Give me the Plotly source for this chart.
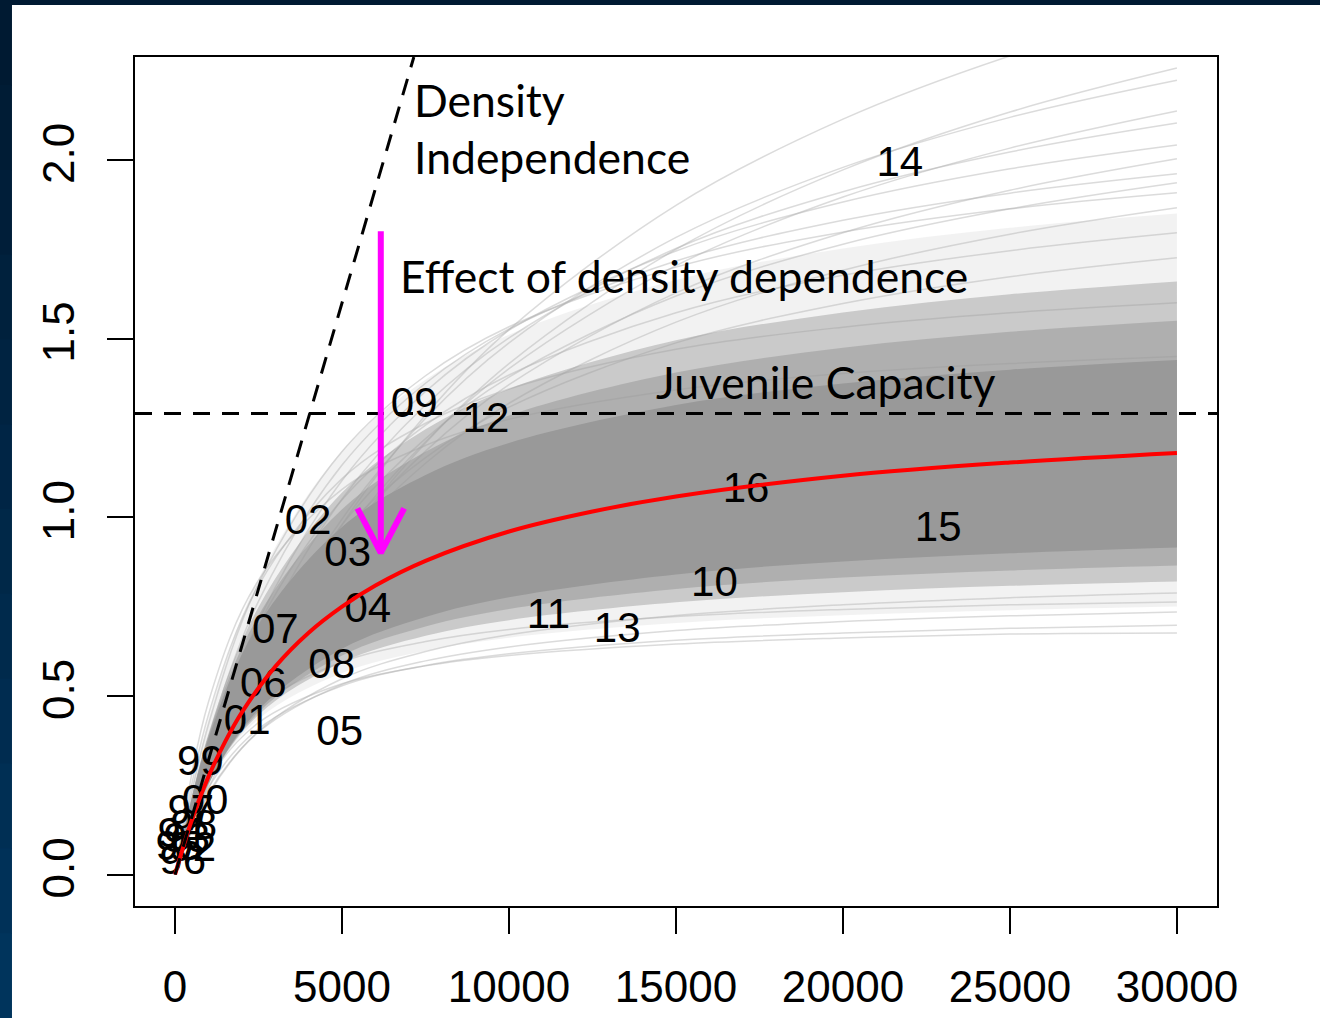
import plotly.graph_objects as go

# ---------------- data ----------------
grid_spawners = [0, 1000, 2500, 5000, 7500, 10000, 15000, 20000, 25000, 30000]

mean_spawners = [0, 500, 1000, 1500, 2000, 3000, 4000, 5000, 6000, 7500, 10000, 12500,
                 15000, 20000, 25000, 30000]
mean_recruits = [0, 0.152, 0.274, 0.372, 0.454, 0.582, 0.677, 0.750, 0.809, 0.878, 0.960, 1.016,
                 1.058, 1.116, 1.153, 1.18]

core_upper = [0, 0.381, 0.700, 0.973, 1.118, 1.208, 1.314, 1.374, 1.413, 1.44]
core_lower = [0, 0.254, 0.461, 0.632, 0.721, 0.776, 0.840, 0.876, 0.899, 0.915]
mid_upper = [0, 0.388, 0.725, 1.022, 1.183, 1.285, 1.405, 1.474, 1.519, 1.55]
mid_lower = [0, 0.255, 0.454, 0.613, 0.694, 0.743, 0.799, 0.831, 0.851, 0.865]
fringe_upper = [0, 0.394, 0.749, 1.069, 1.246, 1.359, 1.495, 1.573, 1.624, 1.66]
fringe_lower = [0, 0.256, 0.447, 0.594, 0.668, 0.712, 0.762, 0.790, 0.808, 0.82]
outer_upper = [0, 0.435, 0.828, 1.186, 1.385, 1.511, 1.664, 1.752, 1.810, 1.85]
outer_lower = [0, 0.258, 0.435, 0.564, 0.626, 0.663, 0.704, 0.726, 0.740, 0.75]

upper_draws = [
    [0, 0.253, 0.570, 0.979, 1.286, 1.525, 1.873, 2.114, 2.291, 2.427],
    [0, 0.240, 0.540, 0.923, 1.208, 1.430, 1.750, 1.972, 2.134, 2.257],
    [0, 0.272, 0.598, 0.995, 1.277, 1.488, 1.783, 1.979, 2.119, 2.223],
    [0, 0.255, 0.563, 0.941, 1.212, 1.416, 1.704, 1.896, 2.033, 2.137],
    [0, 0.309, 0.657, 1.051, 1.314, 1.502, 1.752, 1.911, 2.022, 2.103],
    [0, 0.344, 0.711, 1.103, 1.352, 1.524, 1.745, 1.882, 1.975, 2.042],
    [0, 0.261, 0.567, 0.931, 1.185, 1.371, 1.628, 1.796, 1.915, 2.003],
    [0, 0.383, 0.765, 1.146, 1.375, 1.527, 1.717, 1.831, 1.907, 1.961],
    [0, 0.290, 0.614, 0.979, 1.220, 1.392, 1.619, 1.764, 1.863, 1.936],
    [0, 0.420, 0.814, 1.184, 1.396, 1.533, 1.700, 1.798, 1.863, 1.908],
    [0, 0.266, 0.569, 0.916, 1.151, 1.319, 1.546, 1.691, 1.792, 1.866],
    [0, 0.350, 0.699, 1.049, 1.258, 1.398, 1.572, 1.677, 1.746, 1.796],
    [0, 0.306, 0.626, 0.959, 1.167, 1.308, 1.488, 1.598, 1.673, 1.726],
    [0, 0.447, 0.809, 1.108, 1.263, 1.359, 1.470, 1.532, 1.572, 1.60],
    [0, 0.483, 0.824, 1.078, 1.201, 1.274, 1.356, 1.402, 1.430, 1.45],
]
lower_draws = [
    [0, 0.263, 0.425, 0.534, 0.584, 0.613, 0.645, 0.662, 0.673, 0.676],
    [0, 0.243, 0.408, 0.528, 0.585, 0.618, 0.656, 0.676, 0.689, 0.698],
    [0, 0.228, 0.399, 0.532, 0.598, 0.637, 0.683, 0.708, 0.724, 0.735],
    [0, 0.289, 0.471, 0.595, 0.652, 0.686, 0.722, 0.742, 0.755, 0.763],
    [0, 0.223, 0.401, 0.548, 0.624, 0.671, 0.725, 0.755, 0.775, 0.788],
]

juvenile_capacity = 1.29
density_independent_slope = 3.2e-4

year_labels = ["14", "09", "12", "16", "15", "02", "03", "04", "10", "11", "13",
               "07", "08", "06", "05", "01", "99", "00", "97", "98", "96", "95",
               "94", "93", "92"]
year_spawners = [21700, 7160, 9310, 17100, 22850, 3980, 5170, 5770, 16150, 11180, 13240,
                 3000, 4690, 2640, 4930, 2160, 760, 900, 470, 560, 230, 110,
                 170, 350, 530]
year_recruits = [1.983, 1.309, 1.268, 1.072, 0.963, 0.983, 0.893, 0.737, 0.809, 0.720, 0.681,
                 0.678, 0.580, 0.527, 0.393, 0.424, 0.309, 0.200, 0.170, 0.130, 0.030, 0.070,
                 0.106, 0.092, 0.068]

arrow_spawners = 6160
arrow_from = 1.80
arrow_to = 0.90

x_ticks = [0, 5000, 10000, 15000, 20000, 25000, 30000]
y_ticks = [0.0, 0.5, 1.0, 1.5, 2.0]
y_tick_text = ["0.0", "0.5", "1.0", "1.5", "2.0"]

x_range = [-1200, 31200]
y_range = [-0.088, 2.288]

# ---------------- figure ----------------
fig = go.Figure()

def band(upper, lower, color):
    fig.add_trace(go.Scatter(x=grid_spawners, y=upper, mode="lines",
                             line=dict(width=0, shape="spline", color=color),
                             hoverinfo="skip", showlegend=False))
    fig.add_trace(go.Scatter(x=grid_spawners, y=lower, mode="lines",
                             line=dict(width=0, shape="spline", color=color),
                             fill="tonexty", fillcolor=color,
                             hoverinfo="skip", showlegend=False))

band(outer_upper, outer_lower, "rgba(205,205,205,0.25)")

for d in upper_draws + lower_draws:
    fig.add_trace(go.Scatter(x=grid_spawners, y=d, mode="lines",
                             line=dict(width=1.5, shape="spline", color="rgba(175,175,175,0.45)"),
                             hoverinfo="skip", showlegend=False))

band(fringe_upper, fringe_lower, "rgba(153,153,153,0.45)")
band(mid_upper, mid_lower, "rgba(153,153,153,0.55)")
band(core_upper, core_lower, "rgb(153,153,153)")

# year labels
fig.add_trace(go.Scatter(x=year_spawners, y=year_recruits, mode="text", text=year_labels,
                         textposition="middle center",
                         textfont=dict(family="Liberation Sans, Arial", size=42, color="black"),
                         hoverinfo="skip", showlegend=False, cliponaxis=False))

# mean curve
fig.add_trace(go.Scatter(x=mean_spawners, y=mean_recruits, mode="lines",
                         line=dict(width=4, shape="spline", color="#ff0000"),
                         hoverinfo="skip", showlegend=False))

# juvenile capacity
fig.add_trace(go.Scatter(x=x_range, y=[juvenile_capacity, juvenile_capacity], mode="lines",
                         line=dict(width=3, color="black", dash="17px,12px"),
                         hoverinfo="skip", showlegend=False))
# density independence line
di_x = [0, y_range[1] / density_independent_slope]
fig.add_trace(go.Scatter(x=di_x, y=[v * density_independent_slope for v in di_x], mode="lines",
                         line=dict(width=3, color="black", dash="17px,12px"),
                         hoverinfo="skip", showlegend=False))

# arrow
fig.add_trace(go.Scatter(x=[arrow_spawners, arrow_spawners], y=[arrow_from, arrow_to], mode="lines",
                         line=dict(width=6, color="#ff00ff"), hoverinfo="skip", showlegend=False))
head_dx = 700
head_dy = 0.125
fig.add_trace(go.Scatter(x=[arrow_spawners - head_dx, arrow_spawners, arrow_spawners + head_dx],
                         y=[arrow_to + head_dy, arrow_to, arrow_to + head_dy], mode="lines",
                         line=dict(width=6, color="#ff00ff"), hoverinfo="skip", showlegend=False))

ann_font = dict(family="Lato, Carlito, Calibri", size=44.5, color="black")
for txt, ax, ay in [("Density", 7100, 2.168), ("Independence", 7100, 2.009),
                    ("Effect of density dependence", 6680, 1.676),
                    ("Juvenile Capacity", 14330, 1.381)]:
    fig.add_annotation(x=ax, y=ay, text=txt, showarrow=False, xanchor="left", yanchor="middle",
                       font=ann_font)

# navy frame strips (left & top)
n = 12
for i in range(n):
    t = i / (n - 1)
    r, g, b = 0, int(26 + t * 26), int(50 + t * 42)
    y0 = 1.0671 - (i + 1) * (1.0671 + 0.1319) / n
    y1 = 1.0671 - i * (1.0671 + 0.1319) / n
    fig.add_shape(type="rect", xref="paper", yref="paper", x0=-0.1248, x1=-0.1137,
                  y0=y0 - 0.001, y1=y1, fillcolor=f"rgb({r},{g},{b})", line=dict(width=0),
                  layer="above")
fig.add_shape(type="rect", xref="paper", yref="paper", x0=-0.1248, x1=1.0952,
              y0=1.0612, y1=1.0671, fillcolor="rgb(0,26,50)", line=dict(width=0), layer="above")

axis_font = dict(family="Liberation Sans, Arial", size=44, color="black")
fig.update_xaxes(range=x_range, tickvals=x_ticks, tickformat="d", ticks="outside", ticklen=26,
                 tickwidth=2, tickcolor="black", showline=True, linewidth=2, linecolor="black",
                 mirror=True, showgrid=False, zeroline=False, tickfont=axis_font,
                 ticklabelstandoff=15, automargin=False)
fig.update_yaxes(range=y_range, tickvals=y_ticks, ticktext=y_tick_text, ticks="outside",
                 ticklen=26, tickwidth=2, tickcolor="black", showline=True, linewidth=2,
                 linecolor="black", mirror=True, showgrid=False, zeroline=False,
                 tickfont=axis_font, tickangle=-90, ticklabelstandoff=15, automargin=False)

fig.update_layout(width=1320, height=1018, autosize=False,
                  margin=dict(l=135, r=103, t=57, b=112),
                  paper_bgcolor="white", plot_bgcolor="white", showlegend=False)

fig.write_html("out.html")
